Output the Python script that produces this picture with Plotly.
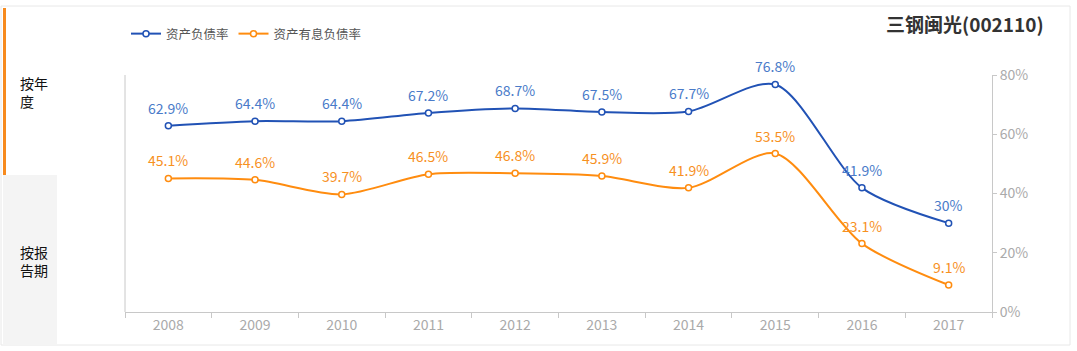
import plotly.graph_objects as go

years = ["2008", "2009", "2010", "2011", "2012", "2013", "2014", "2015", "2016", "2017"]
debt_ratio = [62.9, 64.4, 64.4, 67.2, 68.7, 67.5, 67.7, 76.8, 41.9, 30]
interest_debt_ratio = [45.1, 44.6, 39.7, 46.5, 46.8, 45.9, 41.9, 53.5, 23.1, 9.1]
series_names = ["资产负债率", "资产有息负债率"]
title_text = "三钢闽光(002110)"

W, H = 1077, 351
L, R, T, B = 125, 992, 75, 312

def px_x(p):
    return (p - L) / (R - L)

def px_y(p):
    return (B - p) / (B - T)

FONT = "Noto Sans CJK SC, Microsoft YaHei, sans-serif"
BLUE = "#2152b5"
BLUE_TXT = "#4a7bc9"
ORANGE = "#ff8c0f"
ORANGE_TXT = "#f7911f"

def fmt(v):
    return f"{v:g}%"

fig = go.Figure()
annotations = []
for vals, name, lc, tc in [(debt_ratio, series_names[0], BLUE, BLUE_TXT),
                           (interest_debt_ratio, series_names[1], ORANGE, ORANGE_TXT)]:
    fig.add_trace(go.Scatter(
        x=years, y=vals, name=name, mode="lines+markers",
        line=dict(color=lc, width=2, shape="spline", smoothing=0.8),
        marker=dict(symbol="circle", size=6, color="white", line=dict(color=lc, width=1.5)),
        cliponaxis=False,
    ))
    for i, yv in enumerate(vals):
        annotations.append(dict(
            x=i, y=yv, xref="x", yref="y", text=fmt(yv), showarrow=False,
            xanchor="center", yanchor="bottom", yshift=6,
            font=dict(color=tc, size=14, family=FONT)))

shapes = [
    # outer border
    dict(type="rect", xref="paper", yref="paper", x0=px_x(1), x1=px_x(1070), y0=px_y(345), y1=px_y(6),
         line=dict(color="#e8e8e8", width=1), fillcolor="rgba(0,0,0,0)", layer="below"),
    # grey tab
    dict(type="rect", xref="paper", yref="paper", x0=px_x(3), x1=px_x(57), y0=px_y(345), y1=px_y(175),
         line=dict(width=0), fillcolor="#f4f4f4", layer="below"),
    # orange active bar
    dict(type="rect", xref="paper", yref="paper", x0=px_x(3), x1=px_x(6), y0=px_y(175), y1=px_y(8),
         line=dict(width=0), fillcolor="#f78a1d", layer="below"),
    # left axis line
    dict(type="line", xref="paper", yref="paper", x0=0, x1=0, y0=0, y1=1,
         line=dict(color="#c8c8c8", width=1)),
]

annotations += [
    dict(text="<b>" + title_text + "</b>", xref="paper", yref="paper", x=px_x(1046), y=px_y(23),
         xanchor="right", yanchor="middle", showarrow=False,
         font=dict(size=19, color="#333333", family=FONT)),
    dict(text="按年<br>度", xref="paper", yref="paper", x=px_x(18), y=px_y(92),
         xanchor="left", yanchor="middle", showarrow=False, align="left",
         font=dict(size=14, color="#111111", family=FONT)),
    dict(text="按报<br>告期", xref="paper", yref="paper", x=px_x(18), y=px_y(261),
         xanchor="left", yanchor="middle", showarrow=False, align="left",
         font=dict(size=14, color="#111111", family=FONT)),
]

fig.update_layout(
    width=W, height=H,
    margin=dict(l=L, r=W - R, t=T, b=H - B, pad=0),
    paper_bgcolor="white", plot_bgcolor="white",
    font=dict(family=FONT),
    showlegend=True,
    legend=dict(orientation="h", x=px_x(126), y=px_y(19), xanchor="left", yanchor="top",
                font=dict(size=12.5, color="#555555", family=FONT), itemwidth=30,
                bgcolor="rgba(0,0,0,0)"),
    xaxis=dict(type="category", range=[-0.5, 9.5], showgrid=False, zeroline=False,
               showline=True, linecolor="#c8c8c8", linewidth=1,
               ticks="outside", tickson="boundaries", ticklen=5, tickcolor="#c8c8c8",
               tickfont=dict(size=14, color="#aaaaaa", family=FONT)),
    yaxis=dict(range=[0, 80], side="right", dtick=20, ticksuffix="%", showgrid=False,
               zeroline=False, showline=True, linecolor="#c8c8c8", linewidth=1,
               ticks="outside", ticklen=4, tickcolor="#c8c8c8",
               tickfont=dict(size=14, color="#aaaaaa", family=FONT)),
    shapes=shapes, annotations=annotations,
)

fig.write_html("out.html")
